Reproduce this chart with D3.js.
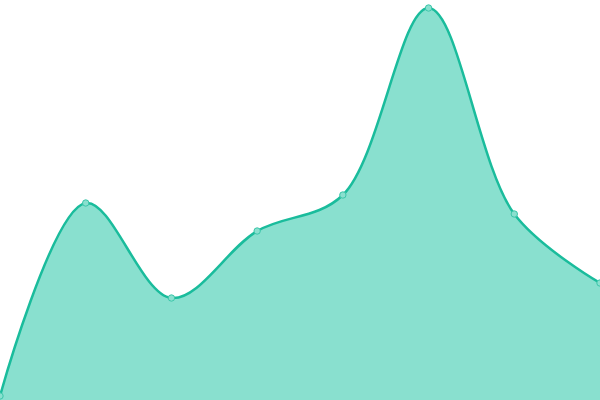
<!DOCTYPE html>
<html><head><meta charset="utf-8">
<script src="https://cdn.jsdelivr.net/npm/d3@7"></script>
<style>html,body{margin:0;padding:0;background:#fff;}svg{display:block;}</style>
</head><body>
<svg id="c" width="600" height="400"></svg>
<script>
const categories = [0, 1, 2, 3, 4, 5, 6, 7];
const values = [4, 197, 102, 169, 205, 392, 186, 117];

const W = 600, H = 400;
const svg = d3.select("#c");
const x = d3.scaleLinear().domain([0, categories.length - 1]).range([0, W]);
const y = d3.scaleLinear().domain([0, 400]).range([H, 0]);
const data = categories.map((c, i) => ({c, v: values[i]}));
const curve = d3.curveCatmullRom.alpha(0.5);

svg.append("path").datum(data)
  .attr("d", d3.area().x(d => x(d.c)).y0(H).y1(d => y(d.v)).curve(curve))
  .attr("fill", "#89e0cf");
svg.append("path").datum(data)
  .attr("d", d3.line().x(d => x(d.c)).y(d => y(d.v)).curve(curve))
  .attr("fill", "none").attr("stroke", "#1abc9c").attr("stroke-width", 2.5);
svg.selectAll("circle").data(data).enter().append("circle")
  .attr("cx", d => x(d.c)).attr("cy", d => y(d.v)).attr("r", 3.2)
  .attr("fill", "#8ae0cf").attr("stroke", "#3cc6aa").attr("stroke-width", 1);
</script>
</body></html>
